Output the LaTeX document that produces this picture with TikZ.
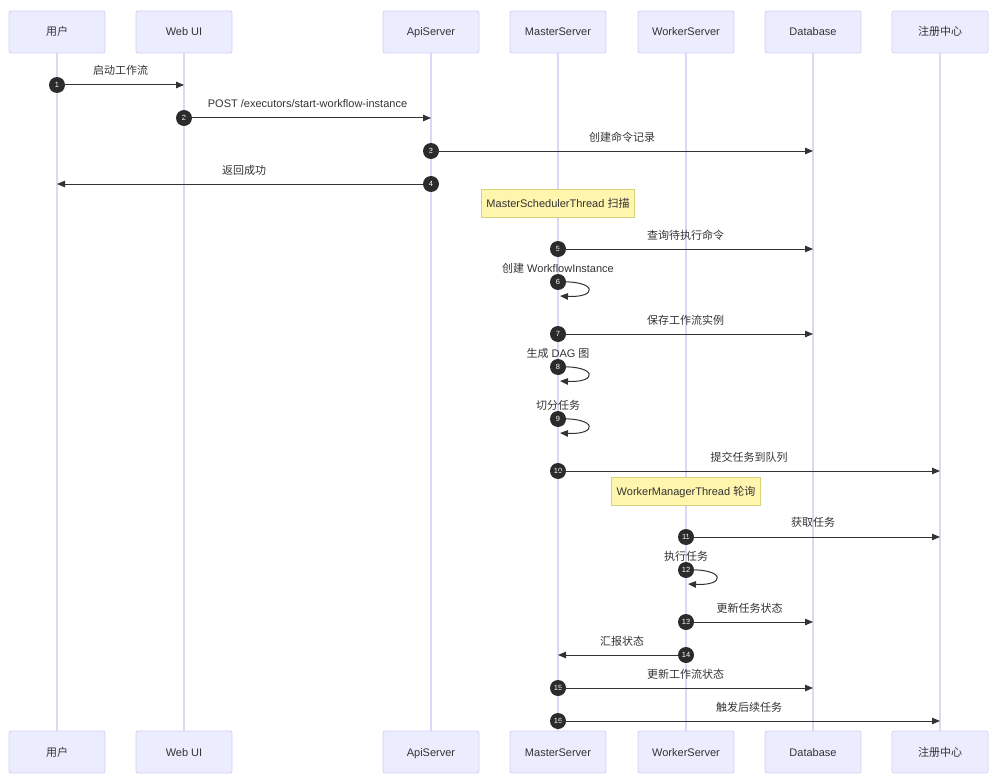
\documentclass[tikz,border=0pt]{standalone}
\usepackage{fontspec}
\setmainfont{Liberation Sans}
\newfontfamily\cjk{Noto Sans CJK SC}
\usetikzlibrary{arrows.meta}
\definecolor{actfill}{HTML}{ECECFF}
\definecolor{actdraw}{HTML}{D4D0F4}
\definecolor{lifec}{HTML}{DDD6F7}
\definecolor{txt}{HTML}{333333}
\definecolor{notefill}{HTML}{FFF5AD}
\definecolor{notedraw}{HTML}{D6D27A}
\definecolor{numfill}{HTML}{2B2B2B}
\tikzset{
  actor/.style={draw=actdraw,fill=actfill,line width=0.8pt,rounded corners=2pt,minimum width=96pt,minimum height=42pt,inner sep=0pt,text height=9pt,text depth=1pt,font=\fontsize{11}{13}\selectfont,text=txt},
  lifeline/.style={draw=lifec,line width=1.3pt},
  msg/.style={draw=txt,line width=1pt,-{Triangle[length=8pt,width=6.5pt]}},
  msglabel/.style={font=\fontsize{11}{13}\selectfont,text=txt,inner sep=0pt,text height=9pt,text depth=1pt},
  num/.style={circle,fill=numfill,minimum size=16pt,inner sep=0pt,text=white,font=\fontsize{7.5}{8}\selectfont},
  notebox/.style={draw=notedraw,fill=notefill,line width=0.8pt,minimum height=28pt,inner sep=5pt,text height=9pt,text depth=1pt,font=\fontsize{11}{13}\selectfont,text=txt}
}
\begin{document}
\begin{tikzpicture}[x=1pt,y=-1pt]
\useasboundingbox (0,0) rectangle (997,784);
% actors top
\node[actor] (uT) at (57,32) {\cjk 用户};
\node[actor] (wT) at (184,32) {Web UI};
\node[actor] (aT) at (431,32) {ApiServer};
\node[actor] (mT) at (558,32) {MasterServer};
\node[actor] (kT) at (686,32) {WorkerServer};
\node[actor] (dT) at (813,32) {Database};
\node[actor] (rT) at (940,32) {\cjk 注册中心};
% actors bottom
\node[actor] (uB) at (57,752) {\cjk 用户};
\node[actor] (wB) at (184,752) {Web UI};
\node[actor] (aB) at (431,752) {ApiServer};
\node[actor] (mB) at (558,752) {MasterServer};
\node[actor] (kB) at (686,752) {WorkerServer};
\node[actor] (dB) at (813,752) {Database};
\node[actor] (rB) at (940,752) {\cjk 注册中心};
% lifelines
\foreach \p in {u,w,a,m,k,d,r}{
  \draw[lifeline] (\p T.south) -- (\p B.north);
}
% notes
\node[notebox,minimum width=148pt] (note1) at (558,203) {MasterSchedulerThread {\cjk 扫描}};
\node[notebox,minimum width=146pt] (note2) at (686,491) {WorkerManagerThread {\cjk 轮询}};
% message 1
\coordinate (e1) at (184,85);
\node[num] (n1) at (57,85) {1};
\node[msglabel] (l1) at (120.5,71) {\cjk 启动工作流};
\draw[msg] (n1.center) -- (e1);
% message 2
\coordinate (e2) at (431,118);
\node[num] (n2) at (184,118) {2};
\node[msglabel] (l2) at (307.5,104) {POST /executors/start-workflow-instance};
\draw[msg] (n2.center) -- (e2);
% message 3
\coordinate (e3) at (813,151);
\node[num] (n3) at (431,151) {3};
\node[msglabel] (l3) at (622,137) {\cjk 创建命令记录};
\draw[msg] (n3.center) -- (e3);
% message 4
\coordinate (e4) at (57,184);
\node[msglabel] (l4) at (244,170) {\cjk 返回成功};
\draw[msg] (431,184) -- (e4);
\node[num] (n4) at (431,184) {4};
% message 5
\coordinate (e5) at (813,249);
\node[num] (n5) at (558,249) {5};
\node[msglabel] (l5) at (685.5,235) {\cjk 查询待执行命令};
\draw[msg] (n5.center) -- (e5);
% message 6 (self)
\coordinate (e6) at (560,296);
\node[msglabel] (l6) at (558,268) {{\cjk 创建} WorkflowInstance};
\draw[msg] (558,282) .. controls (598,280) and (598,298) .. (e6);
\node[num] (n6) at (558,282) {6};
% message 7
\coordinate (e7) at (813,334);
\node[num] (n7) at (558,334) {7};
\node[msglabel] (l7) at (685.5,320) {\cjk 保存工作流实例};
\draw[msg] (n7.center) -- (e7);
% message 8 (self)
\coordinate (e8) at (560,381);
\node[msglabel] (l8) at (558,353) {{\cjk 生成} DAG {\cjk 图}};
\draw[msg] (558,367) .. controls (598,365) and (598,383) .. (e8);
\node[num] (n8) at (558,367) {8};
% message 9 (self)
\coordinate (e9) at (560,433);
\node[msglabel] (l9) at (558,405) {\cjk 切分任务};
\draw[msg] (558,419) .. controls (598,417) and (598,435) .. (e9);
\node[num] (n9) at (558,419) {9};
% message 10
\coordinate (e10) at (940,471);
\node[num] (n10) at (558,471) {10};
\node[msglabel] (l10) at (749,457) {\cjk 提交任务到队列};
\draw[msg] (n10.center) -- (e10);
% message 11
\coordinate (e11) at (940,537);
\node[num] (n11) at (686,537) {11};
\node[msglabel] (l11) at (813,522) {\cjk 获取任务};
\draw[msg] (n11.center) -- (e11);
% message 12 (self)
\coordinate (e12) at (688,584);
\node[msglabel] (l12) at (686,556) {\cjk 执行任务};
\draw[msg] (686,570) .. controls (726,568) and (726,586) .. (e12);
\node[num] (n12) at (686,570) {12};
% message 13
\coordinate (e13) at (813,622);
\node[num] (n13) at (686,622) {13};
\node[msglabel] (l13) at (749.5,608) {\cjk 更新任务状态};
\draw[msg] (n13.center) -- (e13);
% message 14
\coordinate (e14) at (558,655);
\node[msglabel] (l14) at (622,641) {\cjk 汇报状态};
\draw[msg] (686,655) -- (e14);
\node[num] (n14) at (686,655) {14};
% message 15
\coordinate (e15) at (813,688);
\node[num] (n15) at (558,688) {15};
\node[msglabel] (l15) at (685.5,674) {\cjk 更新工作流状态};
\draw[msg] (n15.center) -- (e15);
% message 16
\coordinate (e16) at (940,721);
\node[num] (n16) at (558,721) {16};
\node[msglabel] (l16) at (749,707) {\cjk 触发后续任务};
\draw[msg] (n16.center) -- (e16);
\end{tikzpicture}
\end{document}
